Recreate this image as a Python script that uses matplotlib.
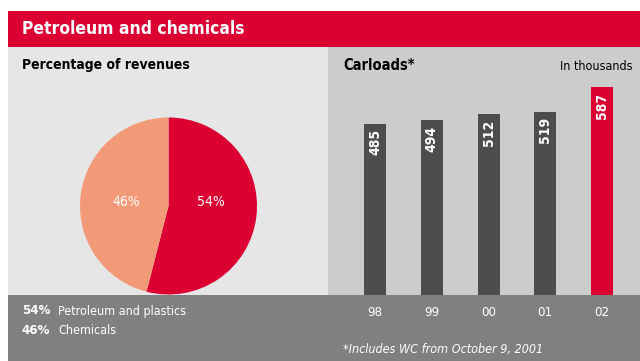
import matplotlib
matplotlib.use('Agg')
import matplotlib.pyplot as plt
from matplotlib.patches import Rectangle

years = ['98', '99', '00', '01', '02']
carloads = [485, 494, 512, 519, 587]
shares = [54, 46]
share_names = ['Petroleum and plastics', 'Chemicals']

RED = '#dc0032'
SALMON = '#f29a78'
LIGHT = '#e6e6e6'
MID = '#cccccc'
BAND = '#808080'
DARK = '#4d4d4d'

plt.rcParams['font.family'] = ['DejaVu Sans']
plt.rcParams['font.stretch'] = 'condensed'

W, H = 640, 361
fig = plt.figure(figsize=(W / 100, H / 100), dpi=100)
fig.patch.set_facecolor('white')


def box(x0, y0, x1, y1):
    # pixel coords measured from the top-left -> figure fraction rect
    return [x0 / W, 1 - y1 / H, (x1 - x0) / W, (y1 - y0) / H]


def rect(x0, y0, x1, y1, color):
    l, b, w, h = box(x0, y0, x1, y1)
    fig.add_artist(Rectangle((l, b), w, h, transform=fig.transFigure,
                             color=color, lw=0, zorder=0))


def txt(x, y, s, **kw):
    fig.text(x / W, 1 - y / H, s, **kw)


rect(8, 11, 640, 47, RED)
rect(8, 47, 328, 295, LIGHT)
rect(328, 47, 640, 295, MID)
rect(8, 295, 640, 361, BAND)

txt(22, 29, 'Petroleum and chemicals', color='white', fontsize=12.5,
    fontweight='bold', va='center')
txt(22, 65, 'Percentage of revenues', color='black', fontsize=10,
    fontweight='bold', va='center')
txt(343, 65, 'Carloads*', color='black', fontsize=10.5,
    fontweight='bold', va='center')
txt(633, 66, 'In thousands', color='black', fontsize=9, ha='right', va='center')

# pie
pax = fig.add_axes(box(80, 117.5, 257, 294.5))
wedges, _, autotexts = pax.pie(shares, colors=[RED, SALMON], startangle=90,
                               counterclock=False, autopct='%d%%',
                               pctdistance=0.48,
                               textprops=dict(color='white', fontsize=10))
for t in autotexts:
    x, _ = t.get_position()
    t.set_position((x, 0.04))
pax.set_xlim(-1, 1)
pax.set_ylim(-1, 1)
pax.set_aspect('equal')
pax.axis('off')

# legend in band
for i, (s, n) in enumerate(zip(shares, share_names)):
    y = 311 + i * 19
    txt(22, y, f'{s}%', color='white', fontsize=9.5, fontweight='bold', va='center')
    txt(58, y, n, color='white', fontsize=9, va='center')

txt(343, 350, '*Includes WC from October 9, 2001', color='white', fontsize=9,
    style='italic', va='center')

# bars
pitch = 56.75
c0 = 375
bax = fig.add_axes(box(328, 85, 640, 295))
bax.patch.set_alpha(0)
xs = list(range(len(years)))
cols = [DARK] * (len(years) - 1) + [RED]
bars = bax.bar(xs, carloads, width=22 / pitch, color=cols)
bax.set_xlim((328 - c0) / pitch, (640 - c0) / pitch)
bax.set_ylim(0, 210 / 0.3535)
for b, v in zip(bars, carloads):
    bax.annotate(str(v), (b.get_x() + b.get_width() / 2, v), xytext=(0, -4),
                 textcoords='offset points', rotation=90, ha='center', va='top',
                 color='white', fontsize=10, fontweight='bold')
bax.set_xticks(xs)
bax.set_xticklabels(years, color='white', fontsize=9.5)
bax.tick_params(axis='x', length=0, pad=8)
bax.set_yticks([])
for sp in bax.spines.values():
    sp.set_visible(False)

fig.savefig('out.png', dpi=100, facecolor=fig.get_facecolor())
